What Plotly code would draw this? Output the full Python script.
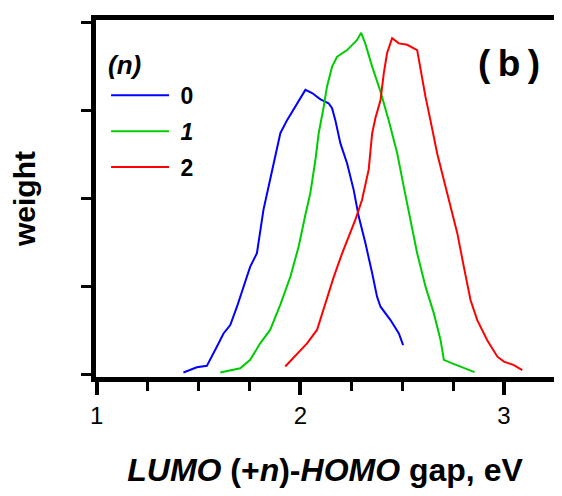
import plotly.graph_objects as go

# n = 0 (blue)
x0 = [1.426, 1.492, 1.541, 1.557, 1.590, 1.623, 1.656, 1.689, 1.721, 1.754, 1.787, 1.803,
      1.819, 1.844, 1.861, 1.885, 1.902, 1.935, 1.975, 2.008, 2.025, 2.058, 2.099, 2.139,
      2.156, 2.172, 2.197, 2.230, 2.262, 2.287, 2.320, 2.353, 2.377, 2.394, 2.443, 2.484, 2.505]
y0 = [0.007, 0.022, 0.026, 0.043, 0.080, 0.118, 0.142, 0.194, 0.251, 0.308, 0.346, 0.403,
      0.469, 0.535, 0.582, 0.649, 0.687, 0.724, 0.762, 0.795, 0.810, 0.801, 0.783, 0.772,
      0.758, 0.724, 0.658, 0.601, 0.526, 0.450, 0.374, 0.289, 0.222, 0.194, 0.156, 0.118, 0.085]

# n = 1 (green)
x1 = [1.607, 1.705, 1.754, 1.803, 1.852, 1.902, 1.951, 1.992, 2.025, 2.049, 2.074, 2.090,
      2.115, 2.131, 2.156, 2.181, 2.230, 2.279, 2.299, 2.320, 2.353, 2.394, 2.434, 2.476,
      2.508, 2.541, 2.574, 2.615, 2.656, 2.689, 2.705, 2.746, 2.803, 2.856]
y1 = [0.007, 0.019, 0.043, 0.090, 0.128, 0.200, 0.279, 0.365, 0.455, 0.516, 0.610, 0.686,
      0.762, 0.819, 0.876, 0.904, 0.923, 0.952, 0.972, 0.940, 0.876, 0.805, 0.724, 0.630,
      0.535, 0.440, 0.346, 0.251, 0.175, 0.099, 0.043, 0.033, 0.019, 0.008]

# n = 2 (red)
x2 = [1.926, 1.984, 2.033, 2.082, 2.131, 2.164, 2.205, 2.271, 2.303, 2.336, 2.353, 2.369,
      2.394, 2.410, 2.426, 2.451, 2.484, 2.525, 2.574, 2.590, 2.615, 2.639, 2.672, 2.705,
      2.738, 2.771, 2.803, 2.836, 2.869, 2.918, 2.968, 3.000, 3.049, 3.090]
y2 = [0.024, 0.061, 0.090, 0.128, 0.222, 0.278, 0.345, 0.442, 0.497, 0.584, 0.687, 0.730,
      0.781, 0.857, 0.914, 0.957, 0.942, 0.938, 0.923, 0.866, 0.790, 0.724, 0.630, 0.554,
      0.478, 0.403, 0.308, 0.213, 0.156, 0.099, 0.052, 0.038, 0.028, 0.014]

series = [
    ("\u00a0<b>0</b>", x0, y0, "#0000FF"),
    ("\u00a0<b><i>1</i></b>", x1, y1, "#00CC00"),
    ("\u00a0<b>2</b>", x2, y2, "#FF0000"),
]

x_tickvals = [1, 2, 3]
x_ticktext = ["1", "2", "3"]
y_tickvals = [0, 0.25, 0.5, 0.75, 1.0]

FONT = "Liberation Sans, Arial, sans-serif"

fig = go.Figure()
for i, (name, xs, ys, col) in enumerate(series):
    fig.add_trace(go.Scatter(x=xs, y=ys, mode="lines", name=name,
                             legendgroup=f"g{i}",
                             line=dict(color=col, width=2)))

# page body has an 8px margin, so the figure is 8px smaller than the window
fig.update_layout(
    width=554, height=488,
    margin=dict(l=88, r=8, t=12, b=119, autoexpand=False),
    paper_bgcolor="white", plot_bgcolor="white",
    font=dict(family=FONT, color="black"),
    showlegend=True,
    legend=dict(
        x=0.022, y=0.944, xanchor="left", yanchor="top",
        bgcolor="rgba(0,0,0,0)",
        font=dict(size=23, family=FONT, color="black"),
        title=dict(text="<b><i>(n)</i></b>", font=dict(size=26, family=FONT)),
        tracegroupgap=3,
        itemwidth=58,
    ),
    annotations=[dict(
        text="<b>(\u2009b\u2009)</b>", xref="paper", yref="paper", x=0.902, y=0.879,
        xanchor="center", yanchor="middle", showarrow=False,
        font=dict(size=37, family=FONT, color="black"),
    )],
)

fig.update_xaxes(
    range=[0.9966, 3.246], automargin=False,
    showline=True, linewidth=5, linecolor="black", mirror=True,
    showgrid=False, zeroline=False,
    tickmode="array", tickvals=x_tickvals, ticktext=x_ticktext,
    ticks="outside", ticklen=13, tickwidth=4, tickcolor="black",
    tickfont=dict(size=24, family=FONT, color="black"),
    minor=dict(dtick=0.25, tick0=1, ticks="outside", ticklen=9, tickwidth=3,
               tickcolor="black", showgrid=False),
    title=dict(text="<b><i>LUMO</i> (+<i>n</i>)-<i>HOMO</i> gap, eV</b>",
               font=dict(size=32, family=FONT, color="black"), standoff=32),
)

fig.update_yaxes(
    range=[-0.0057, 1.0085], automargin=False,
    showline=True, linewidth=5, linecolor="black", mirror=True,
    showgrid=False, zeroline=False,
    tickmode="array", tickvals=y_tickvals, showticklabels=False,
    ticks="outside", ticklen=10, tickwidth=3, tickcolor="black",
    title=dict(text="<b>weight</b>", font=dict(size=30, family=FONT, color="black"),
               standoff=38),
)

fig.write_html("out.html")
